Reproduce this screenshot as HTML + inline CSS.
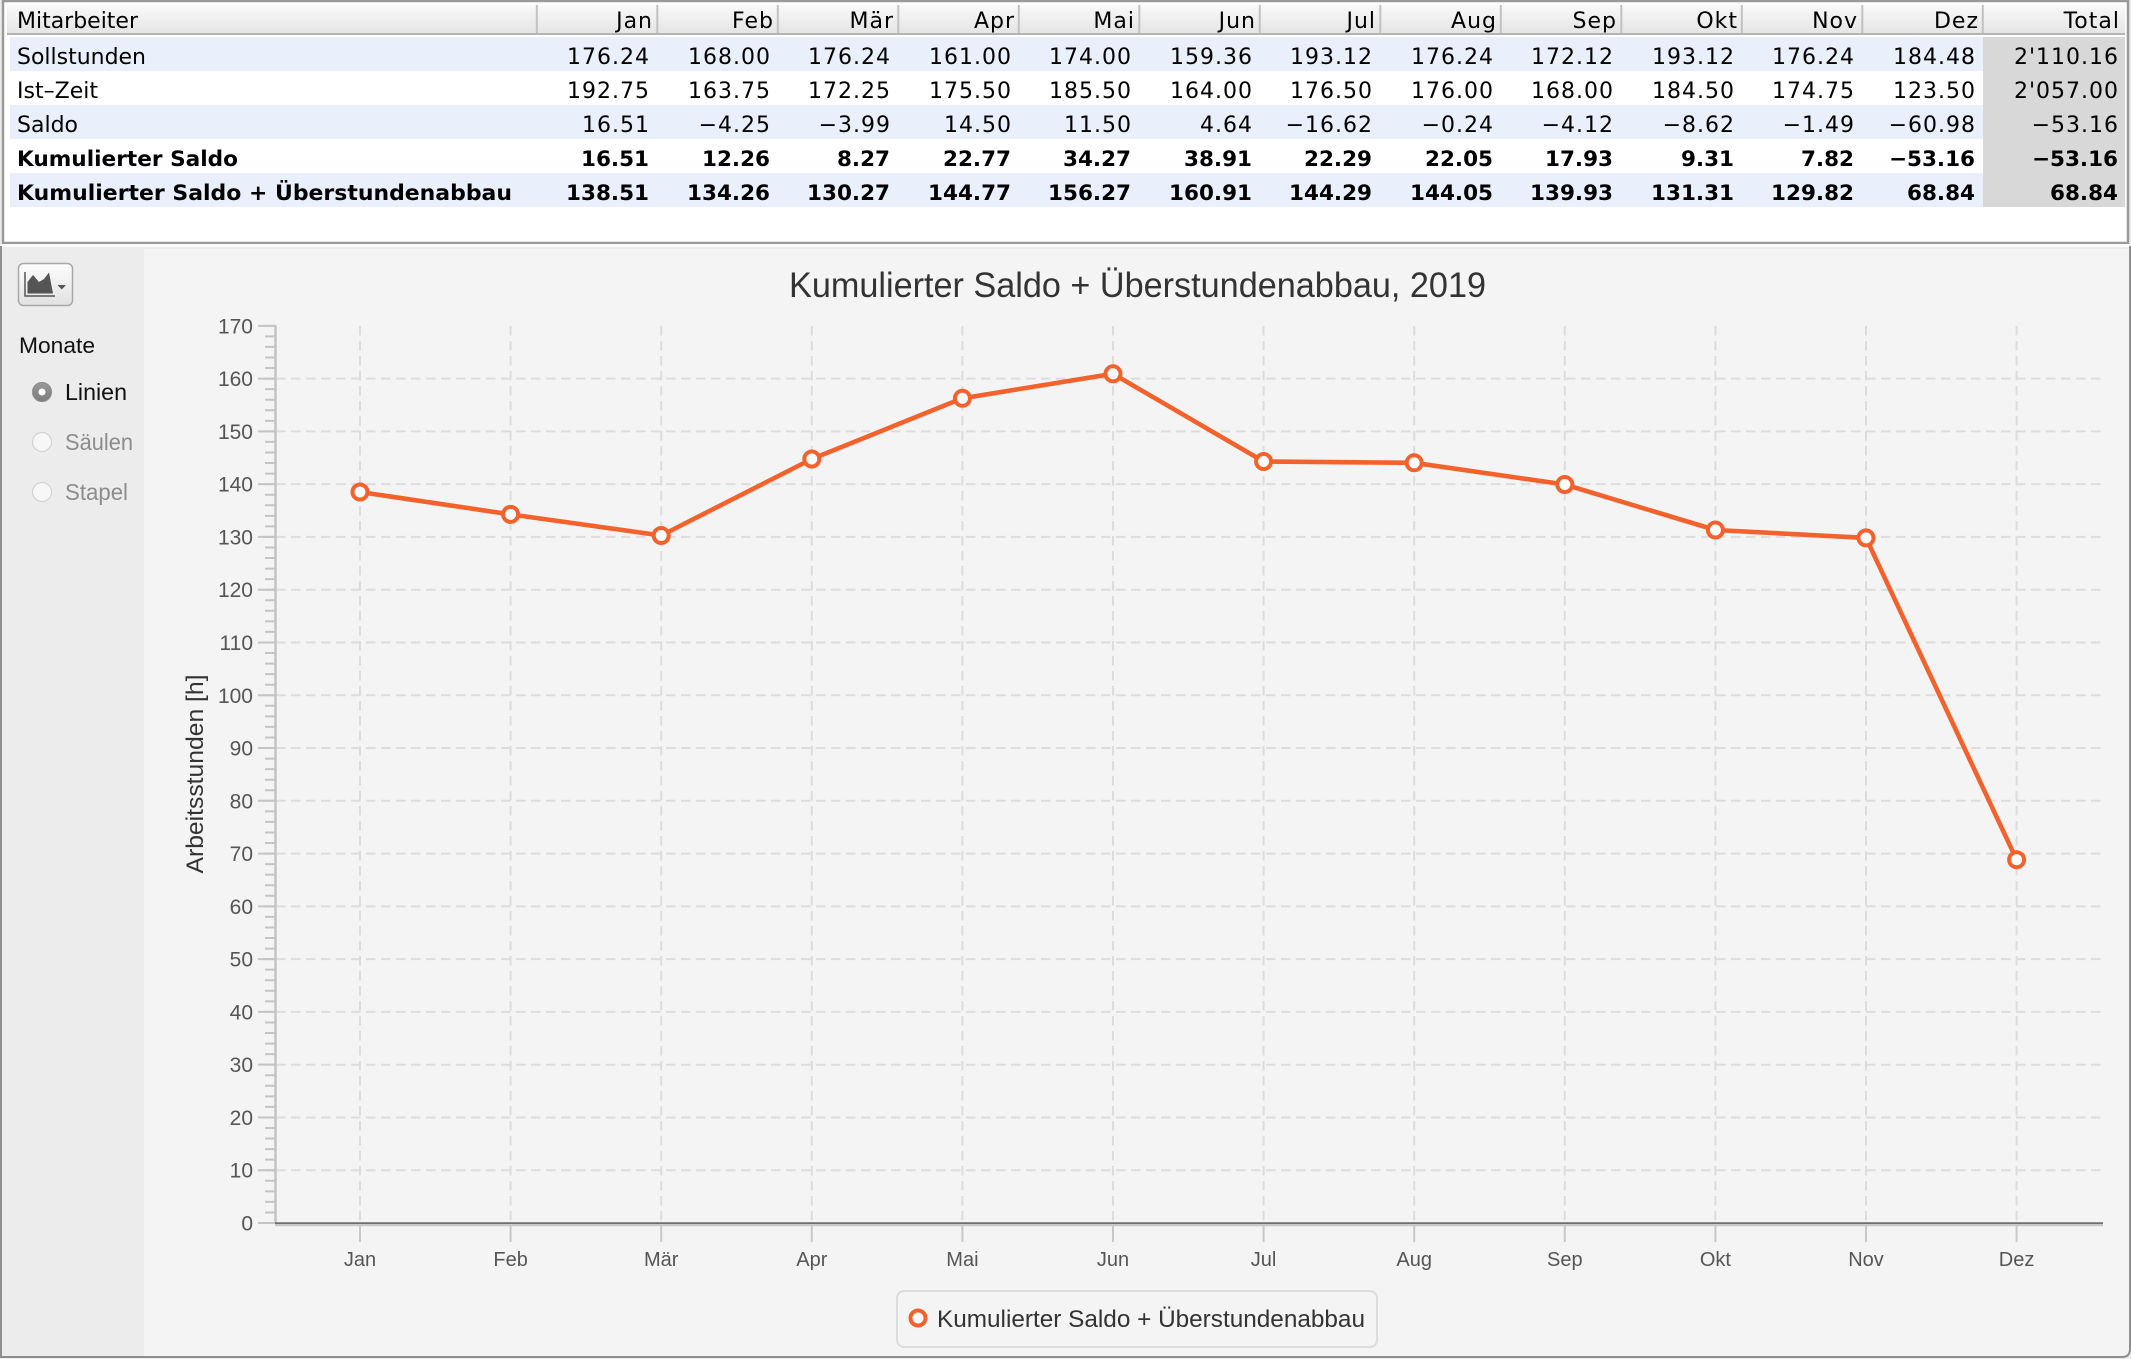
<!DOCTYPE html>
<html><head><meta charset="utf-8"><style>
html,body{margin:0;padding:0;background:#ececec;}
svg{display:block;}
</style></head><body>
<svg xmlns="http://www.w3.org/2000/svg" width="2131" height="1359" viewBox="0 0 2131 1359">
<defs>
<linearGradient id="hdr" x1="0" y1="0" x2="0" y2="1"><stop offset="0" stop-color="#fafafa"/><stop offset="1" stop-color="#e4e4e4"/></linearGradient>
<linearGradient id="btn" x1="0" y1="0" x2="0" y2="1"><stop offset="0" stop-color="#fdfdfd"/><stop offset="1" stop-color="#e2e2e2"/></linearGradient>
<linearGradient id="rsel" x1="0" y1="0" x2="0" y2="1"><stop offset="0" stop-color="#9a9a9a"/><stop offset="1" stop-color="#7c7c7c"/></linearGradient>
</defs>
<rect x="0" y="0" width="2131" height="1359" fill="#ececec"/>
<!-- table panel -->
<rect x="3" y="1" width="2125" height="242" fill="#ffffff" stroke="#9a9a9a" stroke-width="2.5"/>
<rect x="7" y="4" width="2118" height="30" fill="url(#hdr)"/>
<line x1="7" y1="34" x2="2125" y2="34" stroke="#b4b4b4" stroke-width="2"/>
<g stroke="#c2c2c2" stroke-width="2">
<line x1="536.8" y1="5" x2="536.8" y2="33"/><line x1="657.3" y1="5" x2="657.3" y2="33"/><line x1="777.8" y1="5" x2="777.8" y2="33"/><line x1="898.3" y1="5" x2="898.3" y2="33"/><line x1="1018.8" y1="5" x2="1018.8" y2="33"/><line x1="1139.3" y1="5" x2="1139.3" y2="33"/><line x1="1259.8" y1="5" x2="1259.8" y2="33"/><line x1="1380.3" y1="5" x2="1380.3" y2="33"/><line x1="1500.8" y1="5" x2="1500.8" y2="33"/><line x1="1621.3" y1="5" x2="1621.3" y2="33"/><line x1="1741.8" y1="5" x2="1741.8" y2="33"/><line x1="1862.3" y1="5" x2="1862.3" y2="33"/><line x1="1982.8" y1="5" x2="1982.8" y2="33"/>
</g>
<rect x="10" y="37" width="1973" height="34" fill="#e9f0fb"/>
<rect x="10" y="105" width="1973" height="34" fill="#e9f0fb"/>
<rect x="10" y="173" width="1973" height="34" fill="#e9f0fb"/>
<rect x="1983" y="37" width="142" height="170" fill="#d8d8d8"/>

<g font-family="'DejaVu Sans', 'Liberation Sans', sans-serif" fill="#000">
<text x="17" y="28" font-size="22" textLength="121" lengthAdjust="spacingAndGlyphs">Mitarbeiter</text>
<text y="28" font-size="22" letter-spacing="1" text-anchor="end"><tspan x="653">Jan</tspan><tspan x="774">Feb</tspan><tspan x="894">Mär</tspan><tspan x="1015">Apr</tspan><tspan x="1135">Mai</tspan><tspan x="1256">Jun</tspan><tspan x="1376">Jul</tspan><tspan x="1497">Aug</tspan><tspan x="1617">Sep</tspan><tspan x="1738">Okt</tspan><tspan x="1858">Nov</tspan><tspan x="1979">Dez</tspan><tspan x="2120">Total</tspan></text>

<text x="17" y="64" font-size="22" textLength="129" lengthAdjust="spacingAndGlyphs">Sollstunden</text>
<text x="17" y="98" font-size="22" textLength="81" lengthAdjust="spacingAndGlyphs">Ist–Zeit</text>
<text x="17" y="132" font-size="22" textLength="61" lengthAdjust="spacingAndGlyphs">Saldo</text>
<text x="17" y="166" font-size="21.5" font-weight="bold" textLength="221" lengthAdjust="spacingAndGlyphs">Kumulierter Saldo</text>
<text x="17" y="200" font-size="21.5" font-weight="bold" textLength="495" lengthAdjust="spacingAndGlyphs">Kumulierter Saldo + Überstundenabbau</text>

<text y="64" font-size="22" letter-spacing="1" text-anchor="end"><tspan x="650">176.24</tspan><tspan x="771">168.00</tspan><tspan x="891">176.24</tspan><tspan x="1012">161.00</tspan><tspan x="1132">174.00</tspan><tspan x="1253">159.36</tspan><tspan x="1373">193.12</tspan><tspan x="1494">176.24</tspan><tspan x="1614">172.12</tspan><tspan x="1735">193.12</tspan><tspan x="1855">176.24</tspan><tspan x="1976">184.48</tspan><tspan x="2119">2'110.16</tspan></text>
<text y="98" font-size="22" letter-spacing="1" text-anchor="end"><tspan x="650">192.75</tspan><tspan x="771">163.75</tspan><tspan x="891">172.25</tspan><tspan x="1012">175.50</tspan><tspan x="1132">185.50</tspan><tspan x="1253">164.00</tspan><tspan x="1373">176.50</tspan><tspan x="1494">176.00</tspan><tspan x="1614">168.00</tspan><tspan x="1735">184.50</tspan><tspan x="1855">174.75</tspan><tspan x="1976">123.50</tspan><tspan x="2119">2'057.00</tspan></text>
<text y="132" font-size="22" letter-spacing="1" text-anchor="end"><tspan x="650">16.51</tspan><tspan x="771">−4.25</tspan><tspan x="891">−3.99</tspan><tspan x="1012">14.50</tspan><tspan x="1132">11.50</tspan><tspan x="1253">4.64</tspan><tspan x="1373">−16.62</tspan><tspan x="1494">−0.24</tspan><tspan x="1614">−4.12</tspan><tspan x="1735">−8.62</tspan><tspan x="1855">−1.49</tspan><tspan x="1976">−60.98</tspan><tspan x="2119">−53.16</tspan></text>
<text y="166" font-size="21.5" font-weight="bold" text-anchor="end"><tspan x="649">16.51</tspan><tspan x="770">12.26</tspan><tspan x="890">8.27</tspan><tspan x="1011">22.77</tspan><tspan x="1131">34.27</tspan><tspan x="1252">38.91</tspan><tspan x="1372">22.29</tspan><tspan x="1493">22.05</tspan><tspan x="1613">17.93</tspan><tspan x="1734">9.31</tspan><tspan x="1854">7.82</tspan><tspan x="1975">−53.16</tspan><tspan x="2118">−53.16</tspan></text>
<text y="200" font-size="21.5" font-weight="bold" text-anchor="end"><tspan x="649">138.51</tspan><tspan x="770">134.26</tspan><tspan x="890">130.27</tspan><tspan x="1011">144.77</tspan><tspan x="1131">156.27</tspan><tspan x="1252">160.91</tspan><tspan x="1372">144.29</tspan><tspan x="1493">144.05</tspan><tspan x="1613">139.93</tspan><tspan x="1734">131.31</tspan><tspan x="1854">129.82</tspan><tspan x="1975">68.84</tspan><tspan x="2118">68.84</tspan></text>
</g>

<!-- lower section -->
<rect x="0" y="244" width="2131" height="3" fill="#fbfbfb"/>
<rect x="2" y="247" width="142" height="1110" fill="#ececec"/>
<rect x="144" y="249" width="1985" height="1107" fill="#f4f4f4"/>
<path d="M1,246 V1357 H2122 Q2130,1357 2130,1349 V246" fill="none" stroke="#8f8f8f" stroke-width="2"/>

<!-- chart-type button -->
<rect x="18.5" y="263.5" width="54" height="42" rx="5" fill="url(#btn)" stroke="#a8a8a8" stroke-width="1.5"/>
<path d="M25,272 V296 H55" fill="none" stroke="#555" stroke-width="1.5"/>
<polygon points="27.5,293.5 27.5,282 33,275 39,282 44,279 49,272.5 53,293.5" fill="#555"/>
<polygon points="57.5,285 66,285 61.75,289.5" fill="#555"/>

<g font-family="'Liberation Sans', Arial, sans-serif">
<text x="19" y="353" font-size="22" fill="#111" textLength="76" lengthAdjust="spacingAndGlyphs">Monate</text>
<circle cx="42" cy="392" r="9.5" fill="url(#rsel)" stroke="#8a8a8a" stroke-width="1"/>
<circle cx="42" cy="392" r="3.5" fill="#ffffff"/>
<text x="65" y="400" font-size="23" fill="#111" textLength="62" lengthAdjust="spacingAndGlyphs">Linien</text>
<circle cx="42" cy="442" r="9.5" fill="#f7f7f7" stroke="#d2d2d2" stroke-width="1.2"/>
<text x="65" y="450" font-size="23" fill="#8c8c8c" textLength="68" lengthAdjust="spacingAndGlyphs">Säulen</text>
<circle cx="42" cy="492" r="9.5" fill="#f7f7f7" stroke="#d2d2d2" stroke-width="1.2"/>
<text x="65" y="500" font-size="23" fill="#8c8c8c" textLength="63" lengthAdjust="spacingAndGlyphs">Stapel</text>
</g>

<!-- chart -->
<g font-family="'Liberation Sans', Arial, sans-serif">
<text x="789" y="297" font-size="35" fill="#333" textLength="697" lengthAdjust="spacingAndGlyphs">Kumulierter Saldo + Überstundenabbau, 2019</text>

<!-- grid -->
<g stroke="#dcdcdc" stroke-width="2" stroke-dasharray="9.5 5.5" fill="none">
<path d="M276,1170.2H2103M276,1117.45H2103M276,1064.7H2103M276,1011.9H2103M276,959.1H2103M276,906.35H2103M276,853.6H2103M276,800.8H2103M276,748H2103M276,695.25H2103M276,642.5H2103M276,589.7H2103M276,536.9H2103M276,484.15H2103M276,431.4H2103M276,378.6H2103"/>
<path d="M360,326V1222M510.6,326V1222M661.2,326V1222M811.8,326V1222M962.4,326V1222M1113,326V1222M1263.6,326V1222M1414.2,326V1222M1564.8,326V1222M1715.4,326V1222M1866,326V1222M2016.6,326V1222"/>
</g>

<!-- y axis -->
<line x1="270" y1="1224" x2="270" y2="324.8" stroke="#c4c4c4" stroke-width="10" stroke-dasharray="2 8.555"/>
<line x1="266.5" y1="1224" x2="266.5" y2="324.8" stroke="#c4c4c4" stroke-width="17" stroke-dasharray="2 50.775"/>
<line x1="275.5" y1="325" x2="275.5" y2="1224" stroke="#c4c4c4" stroke-width="2.5"/>

<!-- x axis -->
<g stroke="#c8c8c8" stroke-width="2">
<path d="M360,1225V1242M510.6,1225V1242M661.2,1225V1242M811.8,1225V1242M962.4,1225V1242M1113,1225V1242M1263.6,1225V1242M1414.2,1225V1242M1564.8,1225V1242M1715.4,1225V1242M1866,1225V1242M2016.6,1225V1242"/>
</g>
<line x1="275" y1="1225.5" x2="2103" y2="1225.5" stroke="#c8c8c8" stroke-width="1.6"/>
<line x1="275" y1="1223.3" x2="2103" y2="1223.3" stroke="#6e6e6e" stroke-width="2"/>

<g font-size="21" fill="#555" text-anchor="end">
<text x="253" y="1230.5">0</text>
<text x="253" y="1177.7">10</text>
<text x="253" y="1124.95">20</text>
<text x="253" y="1072.2">30</text>
<text x="253" y="1019.4">40</text>
<text x="253" y="966.6">50</text>
<text x="253" y="913.85">60</text>
<text x="253" y="861.1">70</text>
<text x="253" y="808.3">80</text>
<text x="253" y="755.5">90</text>
<text x="253" y="702.75">100</text>
<text x="253" y="650">110</text>
<text x="253" y="597.2">120</text>
<text x="253" y="544.4">130</text>
<text x="253" y="491.65">140</text>
<text x="253" y="438.9">150</text>
<text x="253" y="386.1">160</text>
<text x="253" y="333.3">170</text>
</g>
<g font-size="20" fill="#555" text-anchor="middle">
<text x="360" y="1266">Jan</text>
<text x="510.6" y="1266">Feb</text>
<text x="661.2" y="1266">Mär</text>
<text x="811.8" y="1266">Apr</text>
<text x="962.4" y="1266">Mai</text>
<text x="1113" y="1266">Jun</text>
<text x="1263.6" y="1266">Jul</text>
<text x="1414.2" y="1266">Aug</text>
<text x="1564.8" y="1266">Sep</text>
<text x="1715.4" y="1266">Okt</text>
<text x="1866" y="1266">Nov</text>
<text x="2016.6" y="1266">Dez</text>
</g>

<text transform="translate(203,774) rotate(-90)" text-anchor="middle" font-size="24" fill="#333" textLength="199" lengthAdjust="spacingAndGlyphs">Arbeitsstunden [h]</text>

<!-- series -->
<polyline points="360,492 510.6,514.4 661.2,535.5 811.8,459 962.4,398.3 1113,373.8 1263.6,461.5 1414.2,462.8 1564.8,484.5 1715.4,530 1866,537.9 2016.6,859.7" fill="none" stroke="#f3622d" stroke-width="4.6" stroke-linejoin="round" stroke-linecap="round"/>
<g fill="#ffffff" stroke="#f3622d" stroke-width="4">
<circle cx="360" cy="492" r="7.5"/>
<circle cx="510.6" cy="514.4" r="7.5"/>
<circle cx="661.2" cy="535.5" r="7.5"/>
<circle cx="811.8" cy="459" r="7.5"/>
<circle cx="962.4" cy="398.3" r="7.5"/>
<circle cx="1113" cy="373.8" r="7.5"/>
<circle cx="1263.6" cy="461.5" r="7.5"/>
<circle cx="1414.2" cy="462.8" r="7.5"/>
<circle cx="1564.8" cy="484.5" r="7.5"/>
<circle cx="1715.4" cy="530" r="7.5"/>
<circle cx="1866" cy="537.9" r="7.5"/>
<circle cx="2016.6" cy="859.7" r="7.5"/>
</g>

<!-- legend -->
<rect x="897" y="1291" width="480" height="56" rx="7" fill="#f4f4f4" stroke="#dcdcdc" stroke-width="2"/>
<circle cx="918" cy="1318" r="7.5" fill="#ffffff" stroke="#f3622d" stroke-width="4"/>
<text x="937" y="1327" font-size="24" fill="#333" textLength="428" lengthAdjust="spacingAndGlyphs">Kumulierter Saldo + Überstundenabbau</text>
</g>
</svg>
</body></html>
